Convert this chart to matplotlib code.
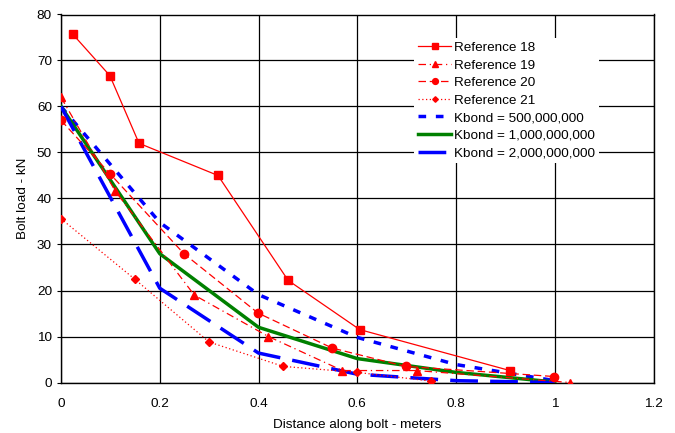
import numpy as np
import matplotlib.pyplot as plt

plt.rcParams['font.family'] = ['Liberation Sans', 'DejaVu Sans']

# measured reference data
ref18_x = [0.024, 0.099, 0.158, 0.318, 0.46, 0.605, 0.909]
ref18_y = [75.7, 66.7, 52.0, 45.0, 22.2, 11.5, 2.6]

ref19_x = [0.0, 0.11, 0.27, 0.42, 0.57, 0.72, 1.03]
ref19_y = [62.0, 41.6, 19.0, 10.0, 2.6, 2.6, 0.0]

ref20_x = [0.0, 0.099, 0.249, 0.399, 0.549, 0.698, 0.999]
ref20_y = [57.0, 45.4, 28.0, 15.1, 7.5, 3.5, 1.3]

ref21_x = [0.0, 0.15, 0.30, 0.45, 0.60, 0.75]
ref21_y = [35.6, 22.4, 8.8, 3.5, 2.2, 0.3]

# model curves
kb_x = [0.0, 0.2, 0.4, 0.6, 0.8, 1.0]
kb500_y = [60.0, 34.8, 19.1, 9.8, 3.9, 0.4]
kb1000_y = [60.0, 28.0, 12.0, 5.2, 2.2, 0.1]
kb2000_y = [60.0, 20.5, 6.4, 1.8, 0.4, 0.0]

x_ticks = [0, 0.2, 0.4, 0.6, 0.8, 1.0, 1.2]
x_tick_labels = ['0', '0.2', '0.4', '0.6', '0.8', '1', '1.2']
y_ticks = np.arange(0, 81, 10)

fs = 9.7

fig = plt.figure(figsize=(6.75, 4.33), dpi=100)
ax = fig.add_axes([61 / 675, 1 - 382.5 / 433, (653.5 - 61) / 675, (382.5 - 14.5) / 433])

red = '#ff0000'
ax.plot(ref18_x, ref18_y, color=red, lw=0.9, ls='-', marker='s', ms=6, label='Reference 18', zorder=4)
ax.plot(ref19_x, ref19_y, color=red, lw=0.9, ls=(0, (6, 3, 1, 3)), marker='^', ms=6, label='Reference 19', zorder=4)
ax.plot(ref20_x, ref20_y, color=red, lw=0.9, ls=(0, (6, 3)), marker='o', ms=6, label='Reference 20', zorder=4)
ax.plot(ref21_x, ref21_y, color=red, lw=0.9, ls=(0, (1, 2)), marker='D', ms=4, label='Reference 21', zorder=4)

ax.plot(kb_x, kb500_y, color='#0000ff', lw=2.5, ls=(0, (2.2, 2.8)), label='Kbond = 500,000,000', zorder=3)
ax.plot(kb_x, kb1000_y, color='#008000', lw=2.5, ls='-', label='Kbond = 1,000,000,000', zorder=3)
ax.plot(kb_x, kb2000_y, color='#0000ff', lw=2.5, ls=(0, (8, 3.5)), label='Kbond = 2,000,000,000', zorder=3)

ax.set_xlim(0, 1.2)
ax.set_ylim(0, 80)
ax.set_xticks(x_ticks)
ax.set_xticklabels(x_tick_labels)
ax.set_yticks(y_ticks)
ax.grid(True, color='black', lw=0.9)
ax.set_axisbelow(True)
for s in ax.spines.values():
    s.set_linewidth(1.0)
ax.tick_params(axis='both', labelsize=fs, length=3, colors='black')
ax.tick_params(axis='x', length=0, pad=11)

ax.set_xlabel('Distance along bolt - meters', fontsize=fs, labelpad=6.5)
ax.set_ylabel('Bolt load - kN', fontsize=fs, labelpad=6)

leg = ax.legend(loc='upper left', bbox_to_anchor=(414 / 675, 1 - 37.5 / 433),
                bbox_transform=fig.transFigure, borderaxespad=0,
                frameon=True, fancybox=False, edgecolor='none', facecolor='white',
                framealpha=1, fontsize=fs, markerscale=0.7,
                handlelength=2.45, handletextpad=0.2, labelspacing=0.38, borderpad=0.3)

fig.savefig('out.png', dpi=100)
